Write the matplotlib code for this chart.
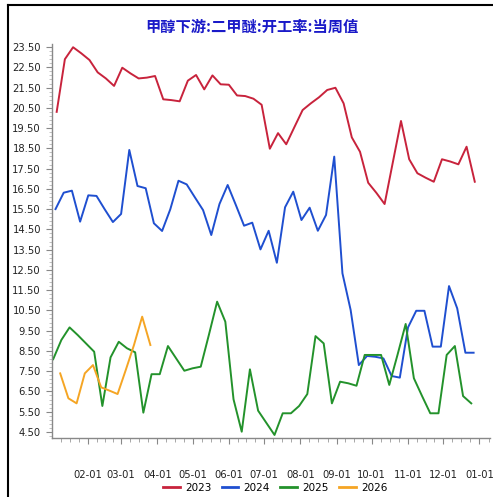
import matplotlib
matplotlib.use("Agg")
import matplotlib.pyplot as plt
from matplotlib.lines import Line2D
import numpy as np

plt.rcParams['font.family'] = ['DejaVu Sans']

title = "甲醇下游:二甲醚:开工率:当周值"

# Weekly operating rate (%), one list per year; first reading day-of-year offsets
years = ["2023", "2024", "2025", "2026"]
start_day = {"2023": 4, "2024": 3, "2025": 1, "2026": 7}

rate_2023 = [20.3, 22.9, 23.49, 23.19, 22.86, 22.25, 21.95, 21.58, 22.48, 22.2,
             21.95, 21.99, 22.07, 20.92, 20.88, 20.82, 21.84, 22.12, 21.41, 22.1,
             21.66, 21.64, 21.11, 21.08, 20.95, 20.65, 18.48, 19.25, 18.7, 19.55,
             20.39, 20.72, 21.02, 21.38, 21.49, 20.72, 19.04, 18.33, 16.8, 16.3,
             15.75, 17.8, 19.85, 17.96, 17.27, 17.05, 16.85, 17.96, 17.85, 17.71,
             18.58, 16.85]
rate_2024 = [15.5, 16.31, 16.41, 14.88, 16.18, 16.15, 15.49, 14.86, 15.26, 18.42,
             16.64, 16.53, 14.8, 14.42, 15.49, 16.9, 16.72, 16.08, 15.45, 14.22,
             15.75, 16.69, 15.7, 14.68, 14.83, 13.51, 14.43, 12.85, 15.59, 16.36,
             14.96, 15.57, 14.43, 15.21, 18.09, 12.33, 10.52, 7.8, 8.25, 8.21,
             8.13, 7.26, 7.18, 9.66, 10.48, 10.48, 8.71, 8.71, 11.7, 10.6,
             8.41, 8.41]
rate_2025 = [8.09, 9.04, 9.66, 9.28, 8.87, 8.46, 5.78, 8.18, 8.95, 8.63,
             8.43, 5.45, 7.35, 7.35, 8.74, 8.13, 7.52, 7.64, 7.72, 9.3,
             10.93, 9.94, 6.11, 4.51, 7.59, 5.55, 4.95, 4.35, 5.42, 5.42,
             5.78, 6.37, 9.23, 8.87, 5.91, 6.98, 6.9, 6.78, 8.3, 8.3,
             8.3, 6.82, 8.3, 9.83, 7.15, 6.27, 5.42, 5.42, 8.3, 8.74,
             6.27, 5.91]
rate_2026 = [7.39, 6.16, 5.91, 7.39, 7.8, 6.7, 6.54, 6.37, 7.56, 8.79, 10.19, 8.79]

series = {"2023": rate_2023, "2024": rate_2024, "2025": rate_2025, "2026": rate_2026}
colors = {"2023": "#c8233c", "2024": "#1f4fd0", "2025": "#23922b", "2026": "#f5a524"}

month_labels = ["02-01", "03-01", "04-01", "05-01", "06-01", "07-01",
                "08-01", "09-01", "10-01", "11-01", "12-01", "01-01"]
month_len = [31, 28, 31, 30, 31, 30, 31, 31, 30, 31, 30, 31]
month_start = np.concatenate([[0], np.cumsum(month_len)])

fig = plt.figure(figsize=(4.93, 4.97), dpi=100)
ax = fig.add_axes([52 / 493, 1 - 438 / 497, (490 - 52) / 493, (438 - 44) / 497])

for yr in years:
    vals = series[yr]
    days = start_day[yr] + 7 * np.arange(len(vals))
    ax.plot(days, vals, color=colors[yr], lw=1.4, solid_joinstyle="round")

ax.set_xlim(0, 374)
ax.set_ylim(4.2, 23.65)

ax.set_xticks(month_start[1:])
ax.set_xticklabels(month_labels)
minor_x = []
for s, n in zip(month_start[:-1], month_len):
    minor_x += [s + n * k / 4 for k in range(1, 4)]
minor_x += [365 + 31 * k / 4 for k in range(1, 2)]
ax.set_xticks(minor_x, minor=True)

yt = np.arange(4.5, 23.51, 1.0)
ax.set_yticks(yt)
ax.set_yticklabels([f"{v:.2f}" for v in yt])
ax.set_yticks(np.arange(4.3, 23.65, 0.2), minor=True)

for side in ("top", "right"):
    ax.spines[side].set_visible(False)
for side in ("left", "bottom"):
    ax.spines[side].set_color("#888888")
    ax.spines[side].set_linewidth(1.0)

ax.tick_params(axis="x", which="major", length=4, width=0.8, color="#888888",
               pad=19, labelsize=7.2, labelcolor="#222222")
ax.tick_params(axis="x", which="minor", length=3, width=0.6, color="#999999")
ax.tick_params(axis="y", which="major", length=4, width=0.8, color="#888888",
               pad=4, labelsize=7.2, labelcolor="#222222")
ax.tick_params(axis="y", which="minor", length=2, width=0.5, color="#aaaaaa")

fig.text(0.51, 1 - 27 / 497, title, ha="center", va="center",
         fontsize=11, fontweight="bold", color="#1a1ac8",
         family=["Noto Sans CJK SC", "DejaVu Sans"])

handles = [Line2D([], [], color=colors[yr], lw=2) for yr in years]
fig.legend(handles, years, loc="center", bbox_to_anchor=(275 / 493, 1 - 488 / 497),
           ncol=4, frameon=False, fontsize=7.5, handlelength=1.6,
           handletextpad=0.5, columnspacing=1.0, borderpad=0.1)

# outer frame
fig.add_artist(Line2D([8 / 493, 8 / 493], [0, 1 - 5 / 497], color="black", lw=1.5,
                      transform=fig.transFigure))
fig.add_artist(Line2D([8 / 493, 1], [1 - 5 / 497, 1 - 5 / 497], color="black", lw=1.5,
                      transform=fig.transFigure))

fig.savefig("out.png", dpi=100)
